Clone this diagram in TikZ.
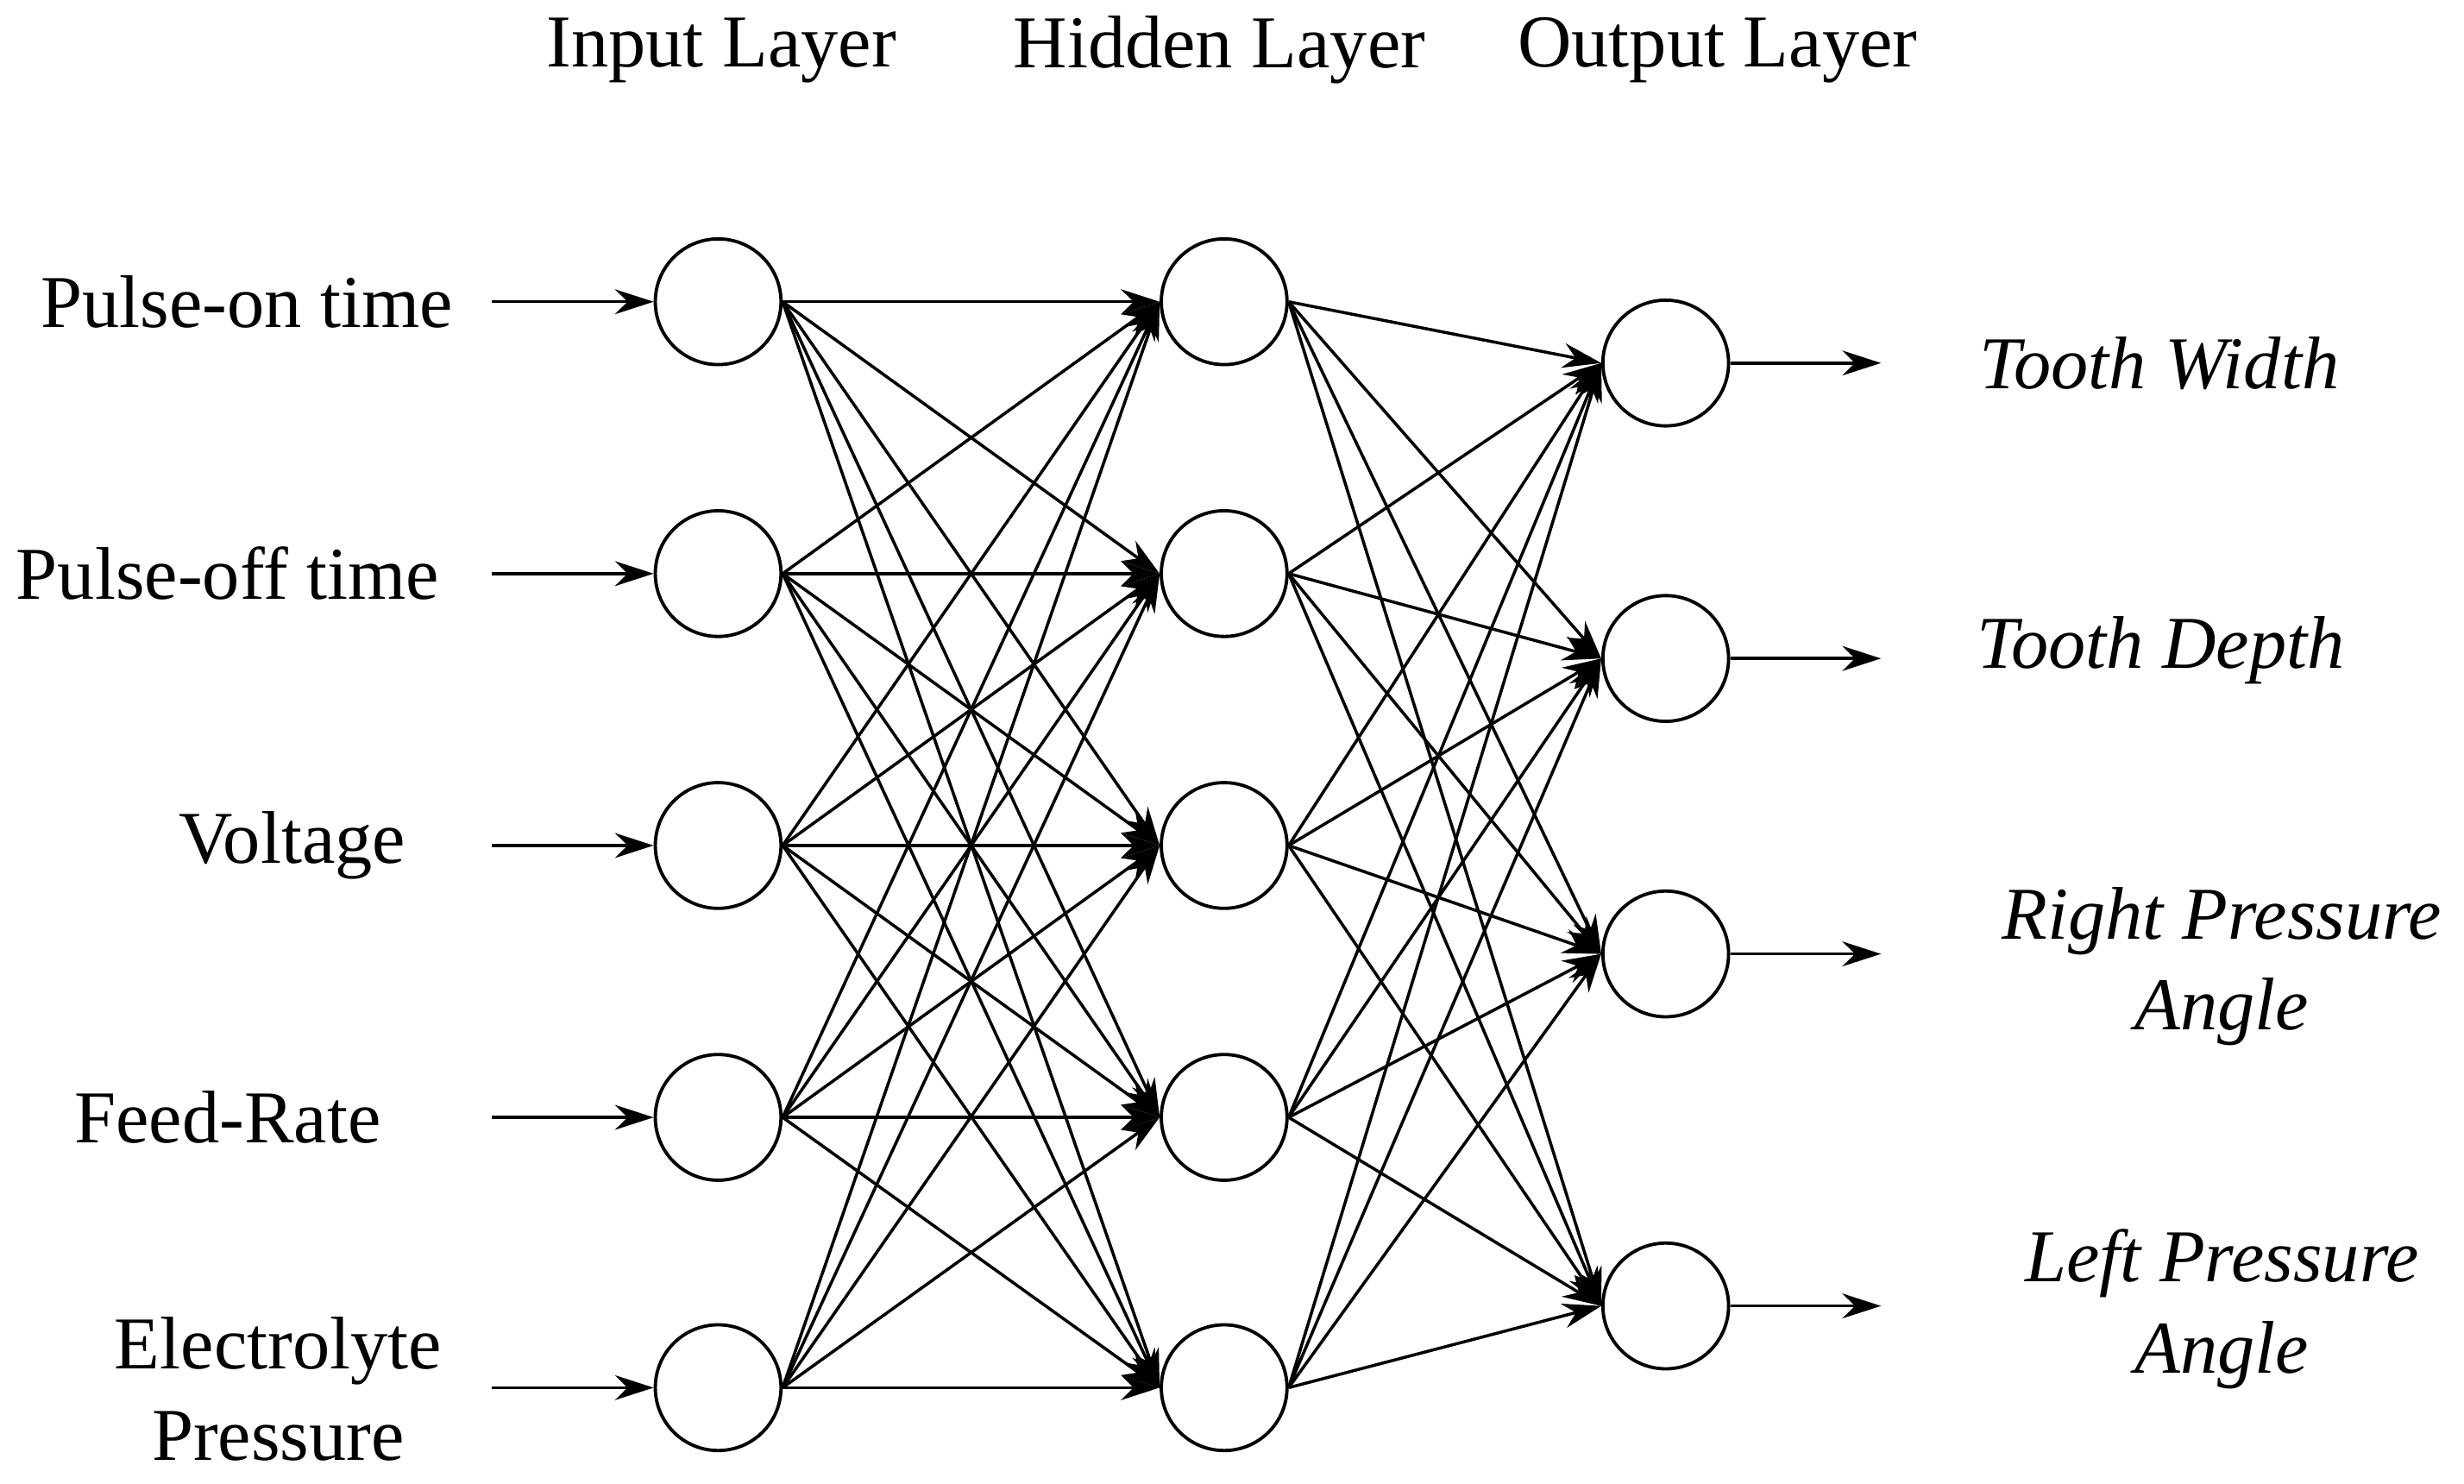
\documentclass[tikz,border=0pt]{standalone}
\usepackage{fontspec}
\setmainfont{Liberation Serif}
\usetikzlibrary{arrows.meta}
\begin{document}
\begin{tikzpicture}[x=0.02cm,y=-0.02cm,
  neuron/.style={circle,draw,line width=1.2pt,minimum size=80*0.02cm,inner sep=0pt},
  conn/.style={line width=1.1pt,-{Stealth[length=14pt,width=9pt]}},
  lbl/.style={font=\fontsize{27}{33}\selectfont,align=center},
  olbl/.style={font=\fontsize{27}{33}\selectfont\itshape,align=center}]
\useasboundingbox (0,0) rectangle (1568,944);
\foreach \i/\y in {1/192,2/365,3/538,4/711,5/883}{
  \node[neuron] (I\i) at (457,\y) {};
  \node[neuron] (H\i) at (779,\y) {};
  \coordinate (S\i) at (313,\y);
  \draw[conn] (S\i) -- (I\i.west);
}
\foreach \j/\y in {1/231,2/419,3/607,4/831}{
  \node[neuron] (O\j) at (1060,\y) {};
  \coordinate (E\j) at (1197,\y);
  \draw[conn] (O\j.east) -- (E\j);
}
\foreach \i in {1,...,5}{\foreach \k in {1,...,5}{\draw[conn] (I\i.east) -- (H\k.west);}}
\foreach \k in {1,...,5}{\foreach \j in {1,...,4}{\draw[conn] (H\k.east) -- (O\j.west);}}
\node[lbl] (t1) at (459,32) {Input Layer};
\node[lbl] (t2) at (776,32) {Hidden Layer};
\node[lbl] (t3) at (1093,32) {Output Layer};
\node[lbl] (a1) at (157,192) {Pulse-on time};
\node[lbl] (a2) at (145,365) {Pulse-off time};
\node[lbl] (a3) at (186,538) {Voltage};
\node[lbl] (a4) at (145,711) {Feed-Rate};
\node[lbl] (a5) at (177,884) {Electrolyte\\Pressure};
\node[olbl] (b1) at (1374,231) {Tooth Width};
\node[olbl] (b2) at (1375,414) {Tooth Depth};
\node[olbl] (b3) at (1414,615) {Right Pressure\\Angle};
\node[olbl] (b4) at (1414,833) {Left Pressure\\Angle};
\end{tikzpicture}
\end{document}
